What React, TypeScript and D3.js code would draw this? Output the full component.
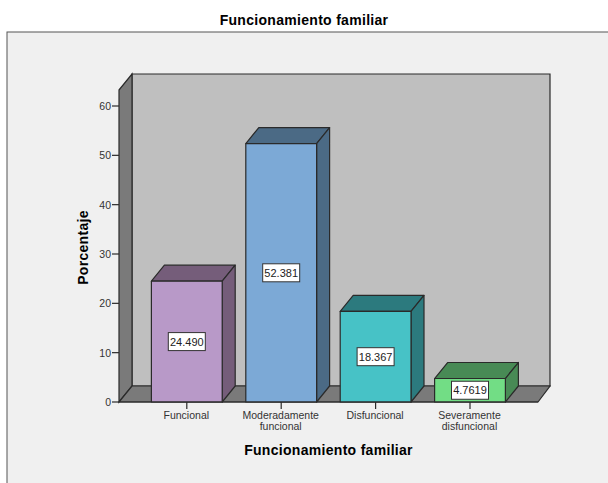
import React from "react";
import * as d3 from "d3";

const categories = ["Funcional", "Moderadamente funcional", "Disfuncional", "Severamente disfuncional"];
const categoryLines = [["Funcional"], ["Moderadamente", "funcional"], ["Disfuncional"], ["Severamente", "disfuncional"]];
const percentages = [24.49, 52.381, 18.367, 4.7619];
const valueLabels = ["24.490", "52.381", "18.367", "4.7619"];
const frontColors = ["#b899c8", "#7ca9d6", "#47c2c6", "#72dd85"];
const shadeColors = ["#755d7a", "#4b6a85", "#2c7a7e", "#488a55"];
const yTicks = [0, 10, 20, 30, 40, 50, 60];

const W = 608;
const H = 483;
const DX = 13;
const DY = -16;
const LEFT = 119;
const RIGHT = 538;
const STROKE = "#2a2a2a";
const FONT = "'Liberation Sans', Arial, sans-serif";

const y = d3.scaleLinear().domain([0, 60]).range([402, 106]);
const x = d3.scaleBand<string>().domain(categories).range([139.6, 517.2]).paddingInner(0.25).paddingOuter(0.125);

const poly = (pts: [number, number][]) => d3.line()(pts)! + "Z";

export default function App() {
  const y0 = y(0);
  const top = 90;
  const titleStyle = { fontSize: 14, fontWeight: "bold", letterSpacing: 0.3 } as const;
  return (
    <svg width={W} height={H} style={{ position: "absolute", left: 0, top: 0, display: "block" }} fontFamily={FONT}>
      <rect width={W} height={H} fill="#ffffff" />
      <rect x={7} y={32} width={W} height={H} fill="#f0f0f0" stroke="#555" strokeWidth={1} />
      <text x={304} y={25} textAnchor="middle" style={titleStyle} fill="#000">Funcionamiento familiar</text>

      {/* back wall, side wall and floor of the 3D box */}
      <path d={poly([[LEFT + DX, top + DY], [RIGHT + DX - 1, top + DY], [RIGHT + DX - 1, y0 + DY], [LEFT + DX, y0 + DY]])} fill="#bfbfbf" stroke={STROKE} strokeWidth={1.2} />
      <path d={poly([[LEFT, top], [LEFT + DX, top + DY], [LEFT + DX, y0 + DY], [LEFT, y0]])} fill="#7a7a7a" stroke={STROKE} strokeWidth={1.2} />
      <path d={poly([[LEFT, y0], [LEFT + DX, y0 + DY], [RIGHT + DX - 1, y0 + DY], [RIGHT, y0]])} fill="#7a7a7a" stroke={STROKE} strokeWidth={1.2} />

      {/* y axis */}
      {yTicks.map((t) => (
        <g key={t}>
          <line x1={112} x2={LEFT} y1={y(t)} y2={y(t)} stroke={STROKE} strokeWidth={1.2} />
          <text x={111} y={y(t) + 4} textAnchor="end" fontSize={10.5} fill="#333">{t}</text>
        </g>
      ))}
      <text transform="translate(88,247.5) rotate(-90)" textAnchor="middle" style={titleStyle} fill="#000">Porcentaje</text>

      {/* bars */}
      {categories.map((c, i) => {
        const x0 = x(c)!;
        const x1 = x0 + x.bandwidth();
        const yT = y(percentages[i]);
        return (
          <g key={c} stroke={STROKE} strokeWidth={1.2} strokeLinejoin="round">
            <path d={poly([[x0, yT], [x0 + DX, yT + DY], [x1 + DX, yT + DY], [x1, yT]])} fill={shadeColors[i]} />
            <path d={poly([[x1, yT], [x1 + DX, yT + DY], [x1 + DX, y0 + DY], [x1, y0]])} fill={shadeColors[i]} />
            <rect x={x0} y={yT} width={x.bandwidth()} height={y0 - yT} fill={frontColors[i]} />
          </g>
        );
      })}

      <line x1={LEFT} x2={RIGHT} y1={y0} y2={y0} stroke={STROKE} strokeWidth={1.2} />

      {/* value labels */}
      {categories.map((c, i) => {
        const cx = x(c)! + x.bandwidth() / 2;
        const cy = (y0 + y(percentages[i])) / 2;
        return (
          <g key={c}>
            <rect x={cx - 18.5} y={cy - 9} width={37} height={18} fill="#fff" stroke="#333" strokeWidth={1} />
            <text x={cx} y={cy + 4} textAnchor="middle" fontSize={11} fill="#222">{valueLabels[i]}</text>
          </g>
        );
      })}

      {/* x axis */}
      {categories.map((c, i) => {
        const cx = x(c)! + x.bandwidth() / 2;
        return (
          <g key={c}>
            <line x1={cx} x2={cx} y1={y0} y2={409} stroke={STROKE} strokeWidth={1.2} />
            <text textAnchor="middle" fontSize={10.5} fill="#333">
              {categoryLines[i].map((l, j) => (
                <tspan key={l} x={cx - 0.5} y={419 + j * 11}>{l}</tspan>
              ))}
            </text>
          </g>
        );
      })}
      <text x={328.5} y={455} textAnchor="middle" style={titleStyle} fill="#000">Funcionamiento familiar</text>
    </svg>
  );
}
